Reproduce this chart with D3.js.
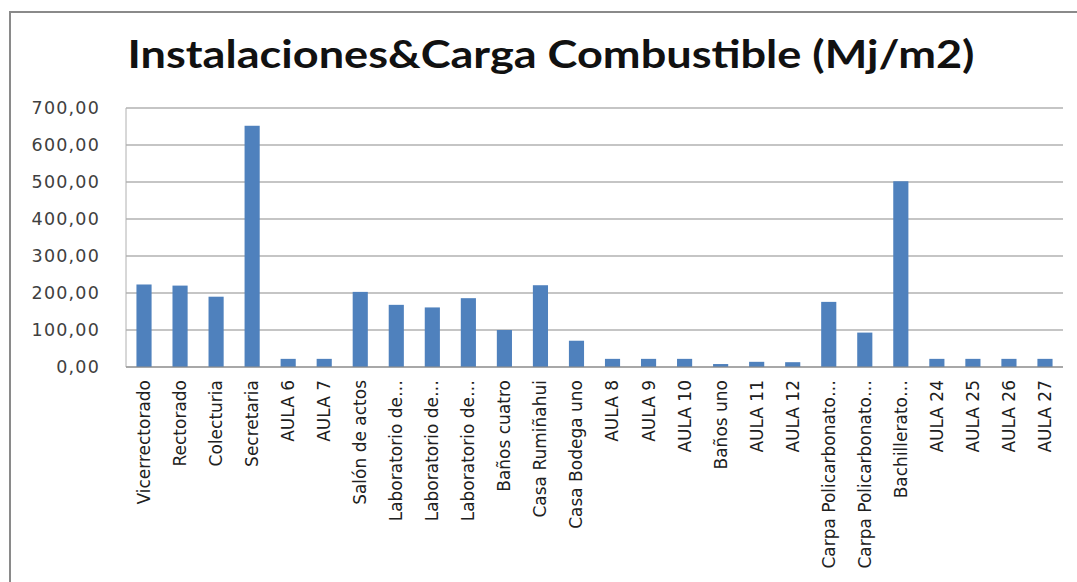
<!DOCTYPE html>
<html>
<head>
<meta charset="utf-8">
<script src="https://cdn.jsdelivr.net/npm/d3@7"></script>
<style>
html,body{margin:0;padding:0;background:#fff;}
svg{display:block;}
</style>
</head>
<body>
<svg id="chart" width="1077" height="582"></svg>
<script>
const title = "Instalaciones&Carga Combustible (Mj/m2)";
const categories = ["Vicerrectorado","Rectorado","Colecturia","Secretaria","AULA 6","AULA 7","Salón de actos","Laboratorio de…","Laboratorio de…","Laboratorio de…","Baños cuatro","Casa Rumiñahui","Casa Bodega uno","AULA 8","AULA 9","AULA 10","Baños uno","AULA 11","AULA 12","Carpa Policarbonato…","Carpa Policarbonato…","Bachillerato…","AULA 24","AULA 25","AULA 26","AULA 27"];
const values = [223, 220, 190, 652, 22, 22, 203, 168, 161, 186, 100, 221, 71, 22, 22, 22, 8, 14, 13, 176, 93, 502, 22, 22, 22, 22];
const yTicks = [0, 100, 200, 300, 400, 500, 600, 700];
const yTickLabels = ["0,00","100,00","200,00","300,00","400,00","500,00","600,00","700,00"];

const svg = d3.select("#chart");
const m = {left: 126, right: 1063, top: 108, bottom: 367};

// outer frame
svg.append("rect").attr("x", 10).attr("y", 12).attr("width", 1100).attr("height", 620)
  .attr("fill", "#fff").attr("stroke", "#8a8a8a").attr("stroke-width", 2);

const keys = categories.map((c, i) => i);
const x = d3.scaleBand().domain(keys).range([m.left, m.right]).paddingInner(0.58).paddingOuter(0.29);
const y = d3.scaleLinear().domain([0, 700]).range([m.bottom, m.top]);

// gridlines
svg.append("g").selectAll("line").data(yTicks).join("line")
  .attr("x1", m.left).attr("x2", m.right)
  .attr("y1", d => y(d)).attr("y2", d => y(d))
  .attr("stroke", "#8c8c8c").attr("stroke-width", 1.2);

// left axis line
svg.append("line").attr("x1", m.left).attr("x2", m.left).attr("y1", m.top).attr("y2", m.bottom)
  .attr("stroke", "#b0b0b0").attr("stroke-width", 1);

// y axis labels
const yAxis = d3.axisLeft(y).tickValues(yTicks).tickFormat((d, i) => yTickLabels[i]).tickSize(0).tickPadding(26);
const gy = svg.append("g").attr("transform", `translate(${m.left},0)`).call(yAxis);
gy.select(".domain").remove();
gy.selectAll("text").attr("font-family", "DejaVu Sans, sans-serif").attr("font-size", 17.5)
  .attr("letter-spacing", 1.2).attr("fill", "#404040");

// bars
svg.append("g").selectAll("rect").data(values).join("rect")
  .attr("x", (d, i) => x(i)).attr("width", x.bandwidth())
  .attr("y", d => y(d)).attr("height", d => y(0) - y(d))
  .attr("fill", "#4F81BD");

// x axis baseline
svg.append("line").attr("x1", m.left).attr("x2", m.right).attr("y1", m.bottom).attr("y2", m.bottom)
  .attr("stroke", "#8c8c8c").attr("stroke-width", 1.2);

// x labels
const xAxis = d3.axisBottom(x).tickFormat(i => categories[i]).tickSize(0);
const gx = svg.append("g").attr("transform", `translate(0,${m.bottom})`).call(xAxis);
gx.select(".domain").remove();
gx.selectAll("text")
  .attr("font-family", "DejaVu Sans, sans-serif").attr("font-size", 17).attr("fill", "#202020")
  .attr("text-anchor", "end").attr("transform", "rotate(-90)")
  .attr("x", -13).attr("y", 0).attr("dy", "0.35em");

// title
svg.append("text").attr("x", 551).attr("y", 68).attr("text-anchor", "middle")
  .attr("font-family", "Lato, sans-serif").attr("font-weight", "bold").attr("font-size", 39)
  .attr("textLength", 847).attr("lengthAdjust", "spacingAndGlyphs")
  .attr("fill", "#111").text(title);
</script>
</body>
</html>
